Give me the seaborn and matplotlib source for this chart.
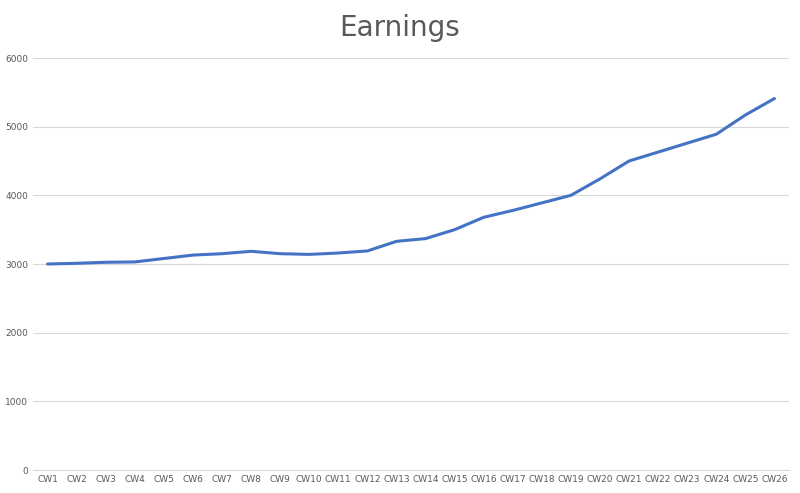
import matplotlib
matplotlib.use("Agg")
import matplotlib.pyplot as plt
import seaborn as sns
import pandas as pd

weeks = [f"CW{i}" for i in range(1, 27)]
earnings = [3000, 3010, 3025, 3030, 3080, 3130, 3150, 3185, 3150, 3140,
            3160, 3190, 3330, 3370, 3500, 3680, 3780, 3890, 4000, 4240,
            4500, 4630, 4760, 4890, 5170, 5410]

df = pd.DataFrame({"week": weeks, "earnings": earnings, "pos": range(len(weeks))})

sns.set_style("white")
fig = plt.figure(figsize=(8, 4.93), dpi=100)
ax = fig.add_axes([33 / 800, 1 - 470 / 493, 756 / 800, 412 / 493])

sns.lineplot(data=df, x="pos", y="earnings", ax=ax, color="#4472C4", linewidth=2.2)

ax.set_xlim(-0.5, len(weeks) - 0.5)
ax.set_ylim(0, 6000)
ax.set_yticks(range(0, 6001, 1000))
ax.set_xticks(range(len(weeks)))
ax.set_xticklabels(weeks)
ax.tick_params(labelsize=6.5, colors="#595959", length=0)
ax.grid(True, axis="y", color="#d9d9d9", linewidth=0.8)
ax.set_axisbelow(True)
for s in ["top", "right", "left"]:
    ax.spines[s].set_visible(False)
ax.spines["bottom"].set_color("#d9d9d9")
ax.set_xlabel("")
ax.set_ylabel("")

fig.text(0.5, 1 - 28 / 493, "Earnings", ha="center", va="center",
         fontsize=20, color="#595959")

fig.savefig("out.png", dpi=100)
